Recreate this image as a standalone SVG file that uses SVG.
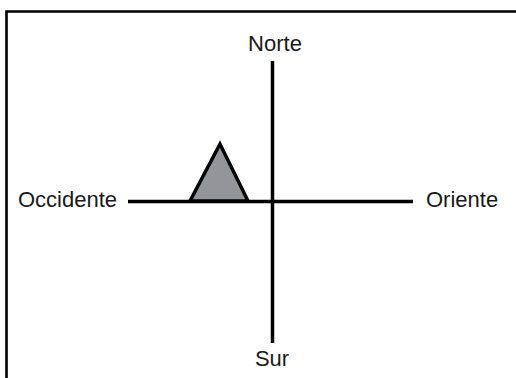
<svg xmlns="http://www.w3.org/2000/svg" width="516" height="378" viewBox="0 0 516 378">
<style>
.lbl{font-family:"Liberation Sans",Arial,sans-serif;font-size:22px;fill:#1a1a1a}
.ax{stroke:#000;stroke-width:3.5;fill:none}
</style>
<rect width="516" height="378" fill="#fff"/>
<path d="M6.5,378 V11.5 H516" fill="none" stroke="#000" stroke-width="2.6"/>
<g id="connectors">
<line class="ax" x1="272.5" y1="61" x2="272.5" y2="343"/>
<line class="ax" x1="128" y1="201.5" x2="413" y2="201.5"/>
</g>
<g id="triangle">
<polygon points="220,144 190,201 248,201" fill="#939598" stroke="#000" stroke-width="3.5" stroke-linejoin="miter"/>
</g>
<g id="norte"><text class="lbl" x="275" y="51" text-anchor="middle">Norte</text></g>
<g id="sur"><text class="lbl" x="272" y="366" text-anchor="middle">Sur</text></g>
<g id="occidente"><text class="lbl" x="18" y="207">Occidente</text></g>
<g id="oriente"><text class="lbl" x="426" y="207">Oriente</text></g>
</svg>
